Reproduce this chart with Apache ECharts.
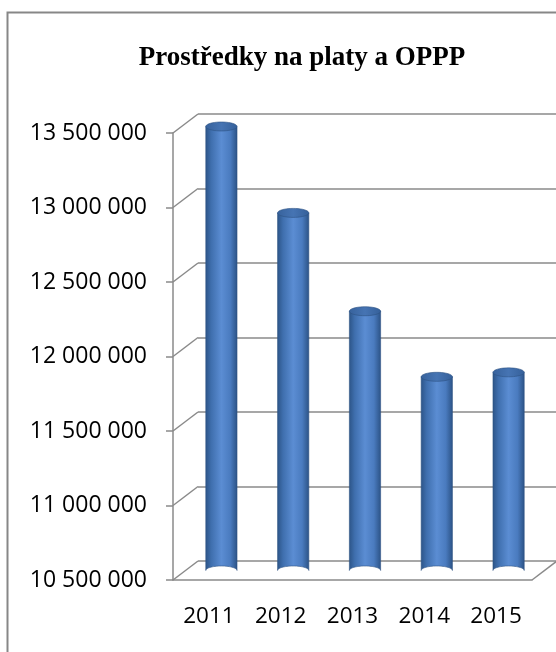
<!DOCTYPE html>
<html>
<head>
<meta charset="utf-8">
<script src="https://cdn.jsdelivr.net/npm/echarts@6/dist/echarts.min.js"></script>
<style>html,body{margin:0;padding:0;background:#fff}#c{width:556px;height:652px}</style>
</head>
<body>
<div id="c"></div>
<script>
const titleText = 'Prostředky na platy a OPPP';
const categories = ['2011', '2012', '2013', '2014', '2015'];
const values = [13480000, 12900000, 12240000, 11800000, 11830000];
const yTicks = [10500000, 11000000, 11500000, 12000000, 12500000, 13000000, 13500000];
const yMin = 10500000, yMax = 13500000, yStep = 500000;

const DX = 25, DY = -19;           // depth offset of the back wall
const LINE = '#8a8a8a';
const fmt = v => String(v).replace(/\B(?=(\d{3})+(?!\d))/g, ' ');

const chart = echarts.init(document.getElementById('c'), null, {renderer: 'canvas'});

function ellipsePts(cx, cy, rx, ry, a0, a1, n) {
  const pts = [];
  for (let k = 0; k <= n; k++) {
    const t = a0 + (a1 - a0) * k / n;
    pts.push([cx + rx * Math.cos(t), cy + ry * Math.sin(t)]);
  }
  return pts;
}

const option = {
  animation: false,
  backgroundColor: '#fff',
  title: {
    text: titleText, left: 297, top: 40, textAlign: 'center',
    textStyle: {fontFamily: 'Liberation Serif', fontWeight: 'bold', fontSize: 27, color: '#000'}
  },
  graphic: [{
    type: 'rect', shape: {x: 7.5, y: 12.5, width: 700, height: 800},
    style: {fill: 'none', stroke: '#878787', lineWidth: 2}, silent: true, z: -10
  }],
  grid: [
    {left: 173, right: 24, top: 133, bottom: 72},
    {left: 198, right: 0, top: 114, bottom: 91}
  ],
  xAxis: [
    {
      type: 'category', gridIndex: 0, data: categories, boundaryGap: true,
      axisLine: {lineStyle: {color: LINE, width: 1.5}},
      axisTick: {length: 7, lineStyle: {color: LINE, width: 1.5}},
      axisLabel: {margin: 25, color: '#000', fontFamily: 'Open Sans', fontSize: 22.5}
    },
    {type: 'category', gridIndex: 1, data: categories, show: false}
  ],
  yAxis: [
    {
      type: 'value', gridIndex: 0, min: yMin, max: yMax, interval: yStep,
      axisLine: {show: true, lineStyle: {color: LINE, width: 1.5}},
      axisTick: {show: true, length: 7, lineStyle: {color: LINE, width: 1.5}},
      splitLine: {show: false},
      axisLabel: {margin: 26, color: '#000', fontFamily: 'Open Sans', fontSize: 23,
        padding: [9, 0, 0, 0], formatter: fmt}
    },
    {
      type: 'value', gridIndex: 1, min: yMin, max: yMax, interval: yStep,
      axisLine: {show: false}, axisTick: {show: false}, axisLabel: {show: false},
      splitLine: {show: true, lineStyle: {color: LINE, width: 1.5}}
    }
  ],
  series: [
    {
      // side-wall diagonals at each tick
      type: 'custom', xAxisIndex: 0, yAxisIndex: 0, silent: true, z: 2,
      data: yTicks.map(v => [0, v]),
      renderItem: function (params, api) {
        const p = api.coord([0, api.value(1)]);
        const x0 = params.coordSys.x;
        return {type: 'line', shape: {x1: x0, y1: p[1], x2: x0 + DX, y2: p[1] + DY},
          style: {stroke: LINE, lineWidth: 1.5}};
      }
    },
    {
      // floor right diagonal
      type: 'custom', xAxisIndex: 0, yAxisIndex: 0, silent: true, z: 2,
      data: [[categories.length - 1, yMin]],
      renderItem: function (params, api) {
        const p = api.coord([api.value(0), api.value(1)]);
        const x1 = p[0] + api.size([1, 0])[0] / 2;
        return {type: 'line', shape: {x1: x1, y1: p[1], x2: x1 + DX, y2: p[1] + DY},
          style: {stroke: LINE, lineWidth: 1.5}};
      }
    },
    {
      // cylinders
      type: 'custom', xAxisIndex: 0, yAxisIndex: 0, z: 5,
      data: values.map((v, i) => [i, v]),
      renderItem: function (params, api) {
        const i = api.value(0), v = api.value(1);
        const top = api.coord([i, v]);
        const base = api.coord([i, yMin]);
        const band = api.size([1, 0])[0];
        const rx = band * 0.435 / 2, ry = 4.5;
        const cx = top[0] + DX / 2;
        const ty = top[1] + DY / 2;
        const by = base[1] + DY / 2;
        const body = [[cx - rx, ty]].concat(ellipsePts(cx, by, rx, ry, Math.PI, 0, 30).map(p => [p[0], 2 * by - p[1]]));
        body.push([cx + rx, ty]);
        const bodyFill = new echarts.graphic.LinearGradient(0, 0, 1, 0, [
          {offset: 0, color: '#2c5487'},
          {offset: 0.18, color: '#3f6fae'},
          {offset: 0.5, color: '#5b8dd3'},
          {offset: 0.78, color: '#4a7bbf'},
          {offset: 1, color: '#2b5285'}
        ]);
        const topFill = new echarts.graphic.LinearGradient(0, 0, 1, 0, [
          {offset: 0, color: '#37629c'},
          {offset: 0.5, color: '#4674b3'},
          {offset: 1, color: '#35609a'}
        ]);
        return {
          type: 'group',
          children: [
            {type: 'polygon', shape: {points: body},
              style: {fill: bodyFill, stroke: '#2d5383', lineWidth: 0.6}},
            {type: 'polygon', shape: {points: ellipsePts(cx, ty, rx, ry, 0, Math.PI * 2, 40)},
              style: {fill: topFill, stroke: '#2d5383', lineWidth: 0.6}}
          ]
        };
      }
    }
  ]
};
chart.setOption(option);
</script>
</body>
</html>
